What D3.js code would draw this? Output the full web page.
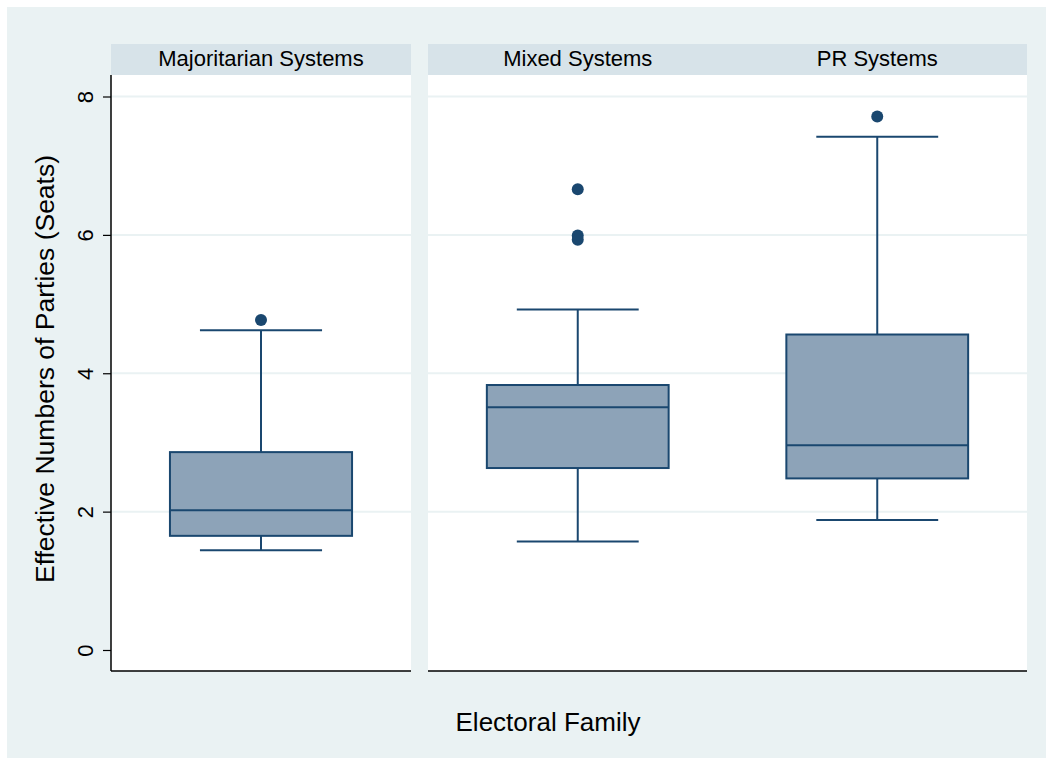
<!DOCTYPE html>
<html>
<head>
<meta charset="utf-8">
<script src="https://cdn.jsdelivr.net/npm/d3@7"></script>
<style>
  html, body { margin: 0; padding: 0; background: #ffffff; }
  svg { display: block; font-family: "Liberation Sans", Arial, sans-serif; }
</style>
</head>
<body>
<svg id="chart" width="1053" height="765"></svg>
<script>
// Electoral systems shown in each facet panel
const panelCategories = [["Majoritarian Systems"], ["Mixed Systems", "PR Systems"]];
const categories = ["Majoritarian Systems", "Mixed Systems", "PR Systems"];

// Box-plot summaries (effective number of parties, seats)
const lowerWhisker = [1.44, 1.57, 1.88];
const q1           = [1.65, 2.63, 2.48];
const median       = [2.02, 3.51, 2.96];
const q3           = [2.86, 3.83, 4.56];
const upperWhisker = [4.62, 4.92, 7.42];
const outliers     = [[4.77], [6.66, 5.99, 5.93], [7.71]];

const yTicks = [0, 2, 4, 6, 8];

const navy = "#1a476f";
const boxFill = "#8da3b8";
const bg = "#eaf2f3";
const strip = "#d7e3e9";

const svg = d3.select("#chart");

// outer graph region
svg.append("rect").attr("x", 7).attr("y", 7).attr("width", 1039).attr("height", 751).attr("fill", bg);

const plotTop = 75, plotBottom = 671;
const y = d3.scaleLinear().domain([0, 8]).range([650, 96.5]);

const panelRanges = [[111, 411], [428, 1027]];

panelRanges.forEach((r, pi) => {
  const g = svg.append("g");
  // plot area
  g.append("rect").attr("x", r[0]).attr("y", plotTop).attr("width", r[1] - r[0]).attr("height", plotBottom - plotTop).attr("fill", "#ffffff");
  // grid lines
  g.selectAll("line.grid").data(yTicks.filter(t => t > 0)).join("line")
    .attr("x1", r[0]).attr("x2", r[1])
    .attr("y1", d => y(d)).attr("y2", d => y(d))
    .attr("stroke", bg).attr("stroke-width", 2);
  // header strip
  g.append("rect").attr("x", r[0]).attr("y", 44).attr("width", r[1] - r[0]).attr("height", 31).attr("fill", strip);

  const x = d3.scaleBand().domain(panelCategories[pi]).range(r).padding(0);
  const bw = x.bandwidth();
  const boxW = bw * 0.607, capW = bw * 0.407;

  panelCategories[pi].forEach(cat => {
    const i = categories.indexOf(cat);
    const cx = x(cat) + bw / 2;
    // header label
    g.append("text").attr("x", cx).attr("y", 66).attr("text-anchor", "middle")
      .attr("font-size", 22).attr("fill", "#000").text(cat);
    // whiskers
    g.append("line").attr("x1", cx).attr("x2", cx).attr("y1", y(q3[i])).attr("y2", y(upperWhisker[i]))
      .attr("stroke", navy).attr("stroke-width", 2);
    g.append("line").attr("x1", cx).attr("x2", cx).attr("y1", y(q1[i])).attr("y2", y(lowerWhisker[i]))
      .attr("stroke", navy).attr("stroke-width", 2);
    [upperWhisker[i], lowerWhisker[i]].forEach(v => {
      g.append("line").attr("x1", cx - capW / 2).attr("x2", cx + capW / 2).attr("y1", y(v)).attr("y2", y(v))
        .attr("stroke", navy).attr("stroke-width", 2);
    });
    // box
    g.append("rect").attr("x", cx - boxW / 2).attr("y", y(q3[i])).attr("width", boxW)
      .attr("height", y(q1[i]) - y(q3[i])).attr("fill", boxFill).attr("stroke", navy).attr("stroke-width", 2);
    g.append("line").attr("x1", cx - boxW / 2).attr("x2", cx + boxW / 2).attr("y1", y(median[i])).attr("y2", y(median[i]))
      .attr("stroke", navy).attr("stroke-width", 2);
    // outside values
    g.selectAll(null).data(outliers[i]).join("circle")
      .attr("cx", cx).attr("cy", d => y(d)).attr("r", 6).attr("fill", navy);
  });

  // bottom axis line
  g.append("line").attr("x1", r[0]).attr("x2", r[1]).attr("y1", plotBottom).attr("y2", plotBottom)
    .attr("stroke", "#000").attr("stroke-width", 1.5);
});

// y axis
const yAxis = svg.append("g").attr("transform", "translate(111,0)")
  .call(d3.axisLeft(y).tickValues(yTicks).tickSize(8).tickPadding(6).tickFormat(d3.format("d")));
yAxis.select(".domain").attr("d", `M0,${plotTop}V${plotBottom}`).attr("stroke", "#000").attr("stroke-width", 1.5);
yAxis.selectAll(".tick line").attr("stroke", "#000").attr("stroke-width", 1.2);
yAxis.selectAll(".tick text")
  .attr("font-size", 22).attr("fill", "#000")
  .attr("font-family", "Liberation Sans, Arial, sans-serif")
  .attr("x", null).attr("dy", null)
  .attr("text-anchor", "middle")
  .attr("transform", "translate(-18,0) rotate(-90)");

// axis titles
svg.append("text").attr("transform", "translate(54,369) rotate(-90)").attr("text-anchor", "middle")
  .attr("font-size", 26.5).attr("fill", "#000").text("Effective Numbers of Parties (Seats)");
svg.append("text").attr("x", 548).attr("y", 731).attr("text-anchor", "middle")
  .attr("font-size", 26).attr("fill", "#000").text("Electoral Family");
</script>
</body>
</html>
